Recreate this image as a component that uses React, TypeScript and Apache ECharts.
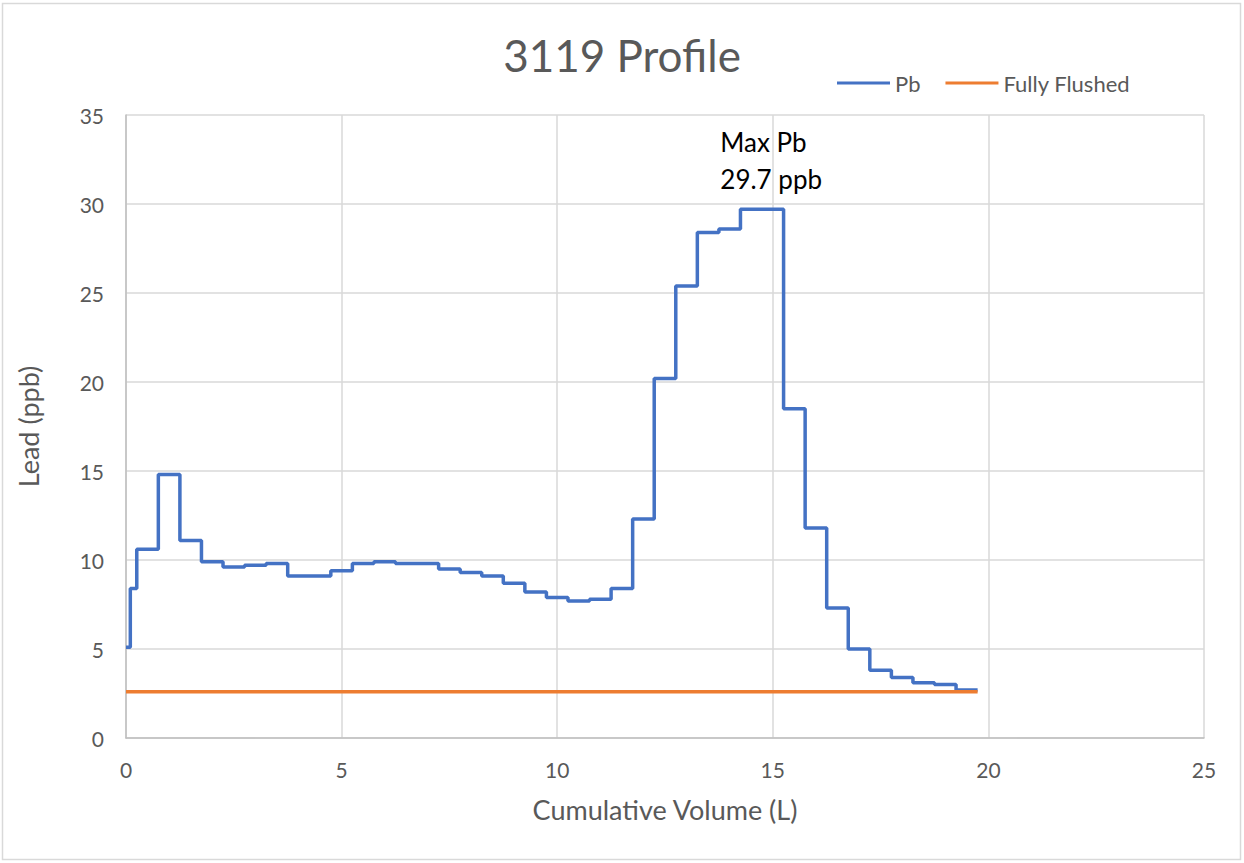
import React, { useEffect, useRef } from "react";
import * as echarts from "echarts";

// Cumulative volume (L) at which each sample interval starts (last entry = end of sampling)
const volumes = [
  0, 0.1, 0.25, 0.75, 1.25, 1.75, 2.25, 2.75, 3.25, 3.75, 4.25, 4.75, 5.25, 5.75,
  6.25, 6.75, 7.25, 7.75, 8.25, 8.75, 9.25, 9.75, 10.25, 10.75, 11.25, 11.75,
  12.25, 12.75, 13.25, 13.75, 14.25, 14.75, 15.25, 15.75, 16.25, 16.75, 17.25,
  17.75, 18.25, 18.75, 19.25, 19.75,
];
// Lead (ppb) for each interval
const leadPpb = [
  5.1, 8.4, 10.6, 14.8, 11.1, 9.9, 9.6, 9.7, 9.8, 9.1, 9.1, 9.4, 9.8, 9.9,
  9.8, 9.8, 9.5, 9.3, 9.1, 8.7, 8.2, 7.9, 7.7, 7.8, 8.4, 12.3,
  20.2, 25.4, 28.4, 28.6, 29.7, 29.7, 18.5, 11.8, 7.3, 5.0, 3.8,
  3.4, 3.1, 3.0, 2.7, 2.7,
];
const flushedVolumes = [0, 19.75];
const flushedLevel = [2.6, 2.6];
const maxPoint = [15, 29.7];
const maxLabelLines = ["Max Pb", "29.7 ppb"];

const FONT = "Lato, 'Open Sans', sans-serif";
const GRAY = "#595959";

export default function App() {
  const ref = useRef<HTMLDivElement>(null);
  useEffect(() => {
    if (!ref.current) return;
    const chart = echarts.init(ref.current, null, { renderer: "svg" });
    const pbData = volumes.map((v, i) => [v, leadPpb[i]]);
    const flushData = flushedVolumes.map((v, i) => [v, flushedLevel[i]]);
    chart.setOption({
      animation: false,
      backgroundColor: "#ffffff",
      textStyle: { fontFamily: FONT },
      title: {
        text: "3119 Profile",
        left: "center",
        top: 28,
        textStyle: { fontFamily: FONT, fontSize: 44, fontWeight: "normal", color: GRAY },
      },
      legend: {
        left: 832,
        top: 67,
        itemWidth: 53,
        itemHeight: 3,
        itemGap: 25,
        icon: "rect",
        textStyle: { fontFamily: FONT, fontSize: 22, color: GRAY },
        data: ["Pb", "Fully Flushed"],
      },
      graphic: [
        {
          type: "rect",
          shape: { x: 2.5, y: 3.5, width: 1238, height: 856 },
          style: { fill: "none", stroke: "#d9d9d9", lineWidth: 1.5 },
          silent: true,
        },
      ],
      grid: { left: 126, right: 40, top: 115, bottom: 125, containLabel: false },
      xAxis: {
        type: "value",
        min: 0,
        max: 25,
        interval: 5,
        name: "Cumulative Volume (L)",
        nameLocation: "middle",
        nameGap: 58,
        nameTextStyle: { fontFamily: FONT, fontSize: 27, color: GRAY },
        axisLine: { show: true, onZero: false, lineStyle: { color: "#bfbfbf", width: 1.5 } },
        axisTick: { show: false },
        axisLabel: { fontFamily: FONT, fontSize: 21, color: GRAY, margin: 21 },
        splitLine: { show: true, lineStyle: { color: "#d9d9d9", width: 1.5 } },
      },
      yAxis: {
        type: "value",
        min: 0,
        max: 35,
        interval: 5,
        name: "Lead (ppb)",
        nameLocation: "middle",
        nameGap: 84,
        nameTextStyle: { fontFamily: FONT, fontSize: 27, color: GRAY },
        axisLine: { show: true, lineStyle: { color: "#bfbfbf", width: 1.5 } },
        axisTick: { show: false },
        axisLabel: { fontFamily: FONT, fontSize: 21, color: GRAY, margin: 22 },
        splitLine: { show: true, lineStyle: { color: "#d9d9d9", width: 1.5 } },
      },
      series: [
        {
          name: "Pb",
          type: "line",
          step: "end",
          data: pbData,
          showSymbol: false,
          symbol: "none",
          lineStyle: { color: "#4472C4", width: 3.5 },
          itemStyle: { color: "#4472C4" },
          markPoint: {
            symbol: "circle",
            symbolSize: 0,
            silent: true,
            data: [
              {
                coord: maxPoint,
                label: {
                  show: true,
                  position: "top",
                  distance: 12,
                  formatter: maxLabelLines.map((l) => `{a|${l}}`).join("\n"),
                  rich: {
                    a: {
                      fontFamily: FONT,
                      fontSize: 26,
                      lineHeight: 37,
                      color: "#000000",
                      width: 105,
                      align: "left",
                    },
                  },
                },
              },
            ],
          },
        },
        {
          name: "Fully Flushed",
          type: "line",
          data: flushData,
          showSymbol: false,
          symbol: "none",
          lineStyle: { color: "#ED7D31", width: 3.5 },
          itemStyle: { color: "#ED7D31" },
        },
      ],
    });
    return () => chart.dispose();
  }, []);
  return (
    <div
      ref={ref}
      style={{ position: "fixed", left: 0, top: 0, width: 1244, height: 863, background: "#fff" }}
    />
  );
}
